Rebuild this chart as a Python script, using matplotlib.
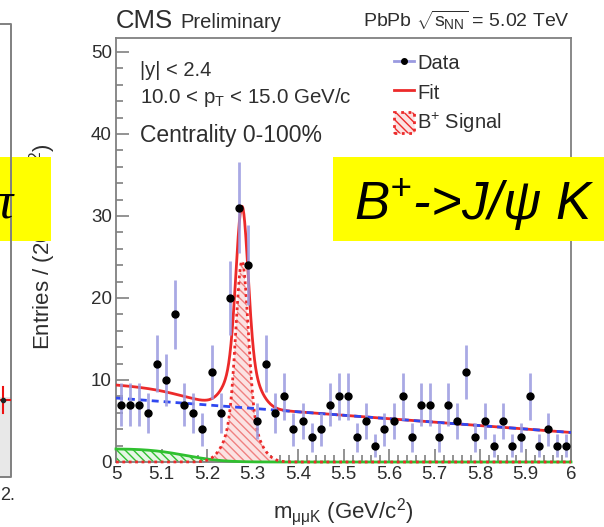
import math
import numpy as np
import matplotlib
matplotlib.use("Agg")
import matplotlib.pyplot as plt
from matplotlib.lines import Line2D
from matplotlib.patches import Patch, Rectangle
from matplotlib.ticker import MultipleLocator, FuncFormatter

plt.rcParams['font.family'] = ['Liberation Sans', 'DejaVu Sans']
plt.rcParams['mathtext.fontset'] = 'custom'
plt.rcParams['mathtext.rm'] = 'Liberation Sans'
plt.rcParams['mathtext.it'] = 'Liberation Sans:italic'
plt.rcParams['mathtext.bf'] = 'Liberation Sans:bold'
plt.rcParams['hatch.linewidth'] = 1.0

# ---- data: B+ -> J/psi K candidates, 20 MeV bins from 5.0 to 6.0 GeV ----
bin_lo, bin_hi, n_bins = 5.0, 6.0, 50
counts = [7, 7, 7, 6, 12, 10, 18, 7, 6, 4,
          11, 6, 20, 31, 24, 5, 12, 6, 8, 4,
          5, 3, 4, 7, 8, 8, 3, 5, 2, 4,
          5, 8, 3, 7, 7, 3, 7, 5, 11, 3,
          5, 2, 5, 2, 3, 8, 2, 4, 2, 2]

# ---- fit model parameters ----
bkg_at_lo = 7.8        # linear combinatorial background at 5.0 GeV
bkg_slope = -4.2       # per GeV
sig_mean = 5.277
sig_core_height, sig_core_width = 18.5, 0.013
sig_tail_height, sig_tail_width = 6.0, 0.030
peak_height, peak_edge, peak_width = 1.6, 5.153, 0.09   # partially reconstructed B

RED = '#ec2a2a'
BLUE = '#3048f0'
GREEN = '#2fc02f'
FRAME = '#808080'
TXT = '#2e2e2e'

edges = np.linspace(bin_lo, bin_hi, n_bins + 1)
centers = 0.5 * (edges[:-1] + edges[1:])
counts = np.array(counts, dtype=float)
errors = np.sqrt(counts)

xf = np.linspace(bin_lo, bin_hi, 1200)
erfc = np.frompyfunc(math.erfc, 1, 1)
bkg = bkg_at_lo + bkg_slope * (xf - bin_lo)
sig = (sig_core_height * np.exp(-0.5 * ((xf - sig_mean) / sig_core_width) ** 2)
       + sig_tail_height * np.exp(-0.5 * ((xf - sig_mean) / sig_tail_width) ** 2))
part = peak_height * 0.5 * erfc((xf - peak_edge) / peak_width).astype(float)
total = bkg + sig + part

W, H = 604, 527
fig = plt.figure(figsize=(W / 100, H / 100), dpi=100)


def fx(px):
    return px / W


def fy(py):
    return 1 - py / H


ax = fig.add_axes([fx(116), fy(462), fx(571) - fx(116), fy(38) - fy(462)])
ax.set_xlim(bin_lo, bin_hi)
ax.set_ylim(0, 51.7)

# partially reconstructed component
ax.fill_between(xf, 0, part, where=xf < 5.23, facecolor='#e6f6e6', edgecolor=GREEN,
                hatch='\\\\\\\\', linewidth=0, zorder=2)
ax.plot(xf, part, color=GREEN, lw=2, zorder=3, clip_on=False)

# signal component
ax.fill_between(xf, 0, sig, facecolor='#fbe2e2', edgecolor='#f08080',
                hatch='\\\\\\\\', linewidth=0, zorder=2)
ax.plot(xf, sig, color=RED, lw=2, ls=(0, (1, 1.3)), zorder=4, clip_on=False)

# total fit and background
ax.plot(xf, total, color=RED, lw=2, zorder=5)
ax.plot(xf, bkg, color=BLUE, lw=2, ls=(0, (2.5, 1.8)), zorder=6)

# data
ax.errorbar(centers, counts, yerr=errors, fmt='none', ecolor='#9a9ae0',
            elinewidth=2, alpha=0.85, zorder=7)
ax.plot(centers, counts, 'o', color='black', markersize=5, zorder=8)

for s in ax.spines.values():
    s.set_color(FRAME)
    s.set_linewidth(1.3)
ax.xaxis.set_major_locator(MultipleLocator(0.1))
ax.xaxis.set_minor_locator(MultipleLocator(0.02))
ax.yaxis.set_major_locator(MultipleLocator(10))
ax.yaxis.set_minor_locator(MultipleLocator(2))
ax.xaxis.set_major_formatter(FuncFormatter(lambda v, p: f'{v:g}'))
ax.tick_params(which='both', direction='in', color=FRAME, width=1.2,
               labelsize=13.5, labelcolor=TXT, pad=3, top=False, right=False)
ax.tick_params(which='major', length=9.5)
ax.tick_params(which='minor', length=5)

legend_handles = [
    Line2D([], [], color='#9a9ae0', lw=2, marker='o', markersize=4,
           markerfacecolor='black', markeredgecolor='black'),
    Line2D([], [], color=RED, lw=2),
    Patch(facecolor='#fbe2e2', edgecolor=RED, hatch='\\\\\\\\', linestyle=':', linewidth=2),
]
leg = ax.legend(legend_handles, ['Data', 'Fit', r'B$^{\mathregular{+}}$ Signal'],
                loc='upper left', bbox_to_anchor=((394 - 116) / 455, (462 - 52) / 424),
                borderaxespad=0, borderpad=0, frameon=False, fontsize=14.5,
                handlelength=1.0, handleheight=1.25, handletextpad=0.15,
                labelspacing=0.4)
for t in leg.get_texts():
    t.set_color(TXT)

# axis titles
fig.text(fx(343), fy(518), r'm$_{\mathregular{μμK}}$ (GeV/c$^{\mathregular{2}}$)',
         ha='center', va='baseline', fontsize=16, color=TXT)
fig.text(fx(43), fy(247), r'Entries / (20 MeV/c$^{\mathregular{2}}$)', rotation=90,
         ha='center', va='center', fontsize=16, color=TXT)

# header and selection labels
fig.text(fx(116), fy(28), 'CMS', fontsize=18.5, color=TXT, va='baseline')
fig.text(fx(180), fy(28), 'Preliminary', fontsize=14.5, color=TXT, va='baseline')
fig.text(fx(570), fy(27), r'PbPb $\sqrt{\mathregular{s}_{\mathregular{NN}}}$ = 5.02 TeV',
         fontsize=14, color=TXT, ha='right', va='baseline')
fig.text(fx(140), fy(76), '|y| < 2.4', fontsize=14.5, color=TXT, va='baseline')
fig.text(fx(140), fy(103), r'10.0 < p$_{\mathregular{T}}$ < 15.0 GeV/c',
         fontsize=14.8, color=TXT, va='baseline')
fig.text(fx(140), fy(142), 'Centrality 0-100%', fontsize=16.5, color=TXT, va='baseline')

# overlay in pixel coordinates: neighbouring panel edge and the yellow captions
ov = fig.add_axes([0, 0, 1, 1], zorder=10)
ov.set_xlim(0, W)
ov.set_ylim(H, 0)
ov.axis('off')
ov.patch.set_alpha(0)

ov.add_patch(Rectangle((0, 397), 11, 80, facecolor='#e8e8e8', edgecolor='none'))
ov.plot([0, 11, 11, 0], [24, 24, 477, 477], color=FRAME, lw=1.4)
ov.plot([0, 10], [400, 400], color='#ee1111', lw=1.5)
ov.plot([3, 3], [387, 413], color='#ee1111', lw=1.5)
ov.plot([3], [400], 'o', color='#222222', markersize=3)
ov.text(0, 500, '2.', fontsize=13, color=TXT, ha='left', va='baseline')

ov.add_patch(Rectangle((0, 157), 50.5, 84, facecolor='#ffff00', edgecolor='none'))
ov.text(13, 217, 'π', fontsize=38, family='Liberation Serif', style='italic',
        ha='right', va='baseline', color='black')

ov.add_patch(Rectangle((333, 157), 271, 84, facecolor='#ffff00', edgecolor='none'))
ov.text(354, 220, r'B$^{\mathregular{+}}$->J/ψ K', fontsize=38, style='italic',
        ha='left', va='baseline', color='black')

fig.savefig('out.png', dpi=100)
